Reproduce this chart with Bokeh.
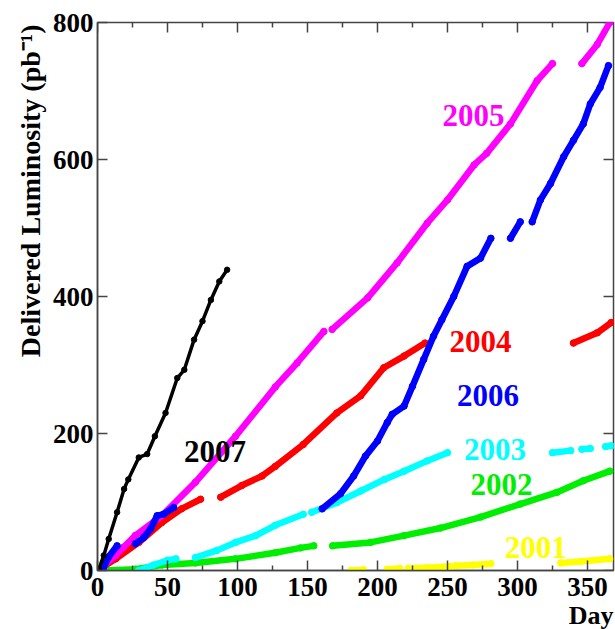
import math
from bokeh.plotting import figure
from bokeh.models import LinearAxis, FixedTicker, Label, ColumnDataSource, Range1d, Title
from bokeh.embed import file_html
from bokeh.resources import INLINE

nan = float("nan")

# ---------------- data ----------------
day_ticks = [0, 50, 100, 150, 200, 250, 300, 350]
day_minor_ticks = [25, 75, 125, 175, 225, 275, 325]
lumi_ticks = [0, 200, 400, 600, 800]
day_max = 368.6
lumi_max = 800

days_2001 = [181, 190, nan, 207, 216, nan, 222, 235, 252, nan, 256, 268, 281, nan, 331, 345, 366]
lumi_2001 = [0, 1, nan, 2, 3, nan, 3, 4, 6, nan, 7, 8, 10, nan, 11, 13, 17]

days_2002 = [6, 27, 46, 70, 98.6, 127, 145, 154.5, nan, 168, 195, 219, 245, 273.6, 302, 328, 347, 366]
lumi_2002 = [0, 2, 8, 11, 17, 26, 33, 36, nan, 36, 41, 51, 62, 78, 97, 114, 131, 145]

days_2003 = [29.5, 40, 50, 56, nan, 70, 85, 98.6, 113, 127, 147, nan, 153, 171, 188, 205, 219, 235.5, 250,
             nan, 325, 338, nan, 346, 352, nan, 363, 367]
lumi_2003 = [0, 8, 15, 17, nan, 19, 29, 41, 51, 66, 82, nan, 85, 99, 116, 133, 145, 160, 172,
             nan, 172, 175, nan, 177, 178, nan, 181, 182]

days_2004 = [0, 13, 29.5, 46, 60, 73.6, nan, 88, 103, 117.6, 127, 147, 171, 188, 204.5, 219, 234,
             nan, 340, 357, 367]
lumi_2004 = [0, 17, 41, 70, 90, 104, nan, 107, 124, 138, 152, 184, 230, 255, 296, 313, 332,
             nan, 332, 347, 362]

days_2005 = [0, 13, 18.6, 27, 46, 70, 98.6, 127, 142.6, 161.7, nan, 167.6, 193, 214, 235.5, 250, 269,
             278, 295, 314, 325, nan, 346, 357, 366]
lumi_2005 = [0, 22, 34, 51, 80, 129, 196, 268, 303, 349, nan, 352, 398, 449, 507, 541, 592,
             609, 652, 715, 740, nan, 740, 768, 800]

days_2006 = [4, 8, 14, nan, 27, 33, 38, 42.6, 47, 54.5, nan, 160.5, 173.6, 183, 191.4, 200, 207, 210.5,
             219, 225, 233, 240, 246, 254.5, 264, 273.6, 281, nan, 295, 302, nan, 310.5, 316.4, 323.6,
             333, 340, 347, 352, 359, 365]
lumi_2006 = [3, 20, 36, nan, 39, 48, 61, 80, 82, 92, nan, 90, 112, 138, 167, 189, 216, 228,
             240, 269, 308, 342, 366, 400, 444, 456, 485, nan, 485, 509, nan, 509, 541, 565,
             604, 628, 652, 681, 705, 737]

days_2007 = [0, 1, 4.5, 8, 14, 19, 22, 29.5, 35.5, 41, 48.6, 57, 62, 69, 75, 81, 87, 92.6]
lumi_2007 = [0, 2, 22, 46, 85, 119, 133, 165, 170, 196, 230, 281, 293, 337, 364, 395, 422, 439]

years = ["2001", "2002", "2003", "2004", "2005", "2006", "2007"]
series_days = [days_2001, days_2002, days_2003, days_2004, days_2005, days_2006, days_2007]
series_lumi = [lumi_2001, lumi_2002, lumi_2003, lumi_2004, lumi_2005, lumi_2006, lumi_2007]

# ---------------- styles ----------------
colors = {"2001": "#ffff00", "2002": "#00ee00", "2003": "#00ffff", "2004": "#ff0000",
          "2005": "#ff00ff", "2006": "#0000ff", "2007": "#000000"}
label_pos = {"2001": (313, 34), "2002": (288.6, 125), "2003": (284, 176), "2004": (273.6, 334),
             "2005": (268.6, 664), "2006": (279, 255), "2007": (83.9, 174)}

FONT = "Liberation Serif"
AXIS_COLOR = "#444444"

p = figure(width=615, height=629, x_range=Range1d(0, day_max), y_range=Range1d(0, lumi_max),
           output_backend="svg", toolbar_location=None,
           x_axis_type=None, y_axis_type=None,
           min_border_left=97, min_border_top=22, min_border_bottom=57, min_border_right=2)
p.outline_line_color = AXIS_COLOR
p.outline_line_width = 1.5
p.background_fill_color = "white"
p.border_fill_color = "white"

xt = FixedTicker(ticks=day_ticks, minor_ticks=day_minor_ticks)
yt = FixedTicker(ticks=lumi_ticks, minor_ticks=[])


def style_axis(ax):
    ax.axis_line_color = AXIS_COLOR
    ax.axis_line_width = 1.5
    ax.major_tick_line_color = AXIS_COLOR
    ax.minor_tick_line_color = AXIS_COLOR
    ax.major_tick_line_width = 1.5
    ax.minor_tick_line_width = 1.5
    ax.major_tick_in = 10
    ax.major_tick_out = 0
    ax.minor_tick_in = 5
    ax.minor_tick_out = 0
    ax.major_label_text_font = FONT
    ax.major_label_text_font_style = "bold"
    ax.major_label_text_font_size = "27px"
    ax.major_label_text_color = "black"


bottom = LinearAxis(ticker=xt)
style_axis(bottom)
bottom.major_label_standoff = 7
p.add_layout(bottom, "below")

left = LinearAxis(ticker=yt)
style_axis(left)
left.major_label_standoff = 4
p.add_layout(left, "left")

# inward tick marks on the top and right frame edges (half of each dash is clipped by the frame)
top_major = ColumnDataSource(data=dict(x=day_ticks, y=[lumi_max] * len(day_ticks)))
top_minor = ColumnDataSource(data=dict(x=day_minor_ticks, y=[lumi_max] * len(day_minor_ticks)))
right_major = ColumnDataSource(data=dict(x=[day_max] * len(lumi_ticks), y=lumi_ticks))
p.scatter("x", "y", source=top_major, marker="dash", angle=math.pi / 2, size=20,
          line_color=AXIS_COLOR, line_width=1.5)
p.scatter("x", "y", source=top_minor, marker="dash", angle=math.pi / 2, size=10,
          line_color=AXIS_COLOR, line_width=1.5)
p.scatter("x", "y", source=right_major, marker="dash", size=20,
          line_color=AXIS_COLOR, line_width=1.5)

for yr, d, l in zip(years, series_days, series_lumi):
    src = ColumnDataSource(data=dict(day=d, lumi=l))
    c = colors[yr]
    if yr == "2007":
        p.line("day", "lumi", source=src, line_color=c, line_width=3.5)
        p.scatter("day", "lumi", source=src, size=5.5, fill_color=c, line_color=c)
    else:
        p.line("day", "lumi", source=src, line_color=c, line_width=6.5, line_cap="round")
        p.scatter("day", "lumi", source=src, size=6.5, fill_color=c, line_color=c)

for yr in years:
    x, y = label_pos[yr]
    p.add_layout(Label(x=x, y=y, text=yr, text_align="center", text_baseline="middle",
                       text_font=FONT, text_font_style="bold", text_font_size="31px",
                       text_color=colors[yr]))

ylab = Title(text="Delivered Luminosity (pb\u207b\u00b9)", align="right", offset=2, standoff=7,
             text_font=FONT, text_font_style="bold", text_font_size="28px", text_color="black")
p.add_layout(ylab, "left")

xlab = Title(text="Day", align="right", offset=0, standoff=0,
             text_font=FONT, text_font_style="bold", text_font_size="26px", text_color="black")
p.add_layout(xlab, "below")

open("out.html", "w").write(file_html(p, INLINE))
